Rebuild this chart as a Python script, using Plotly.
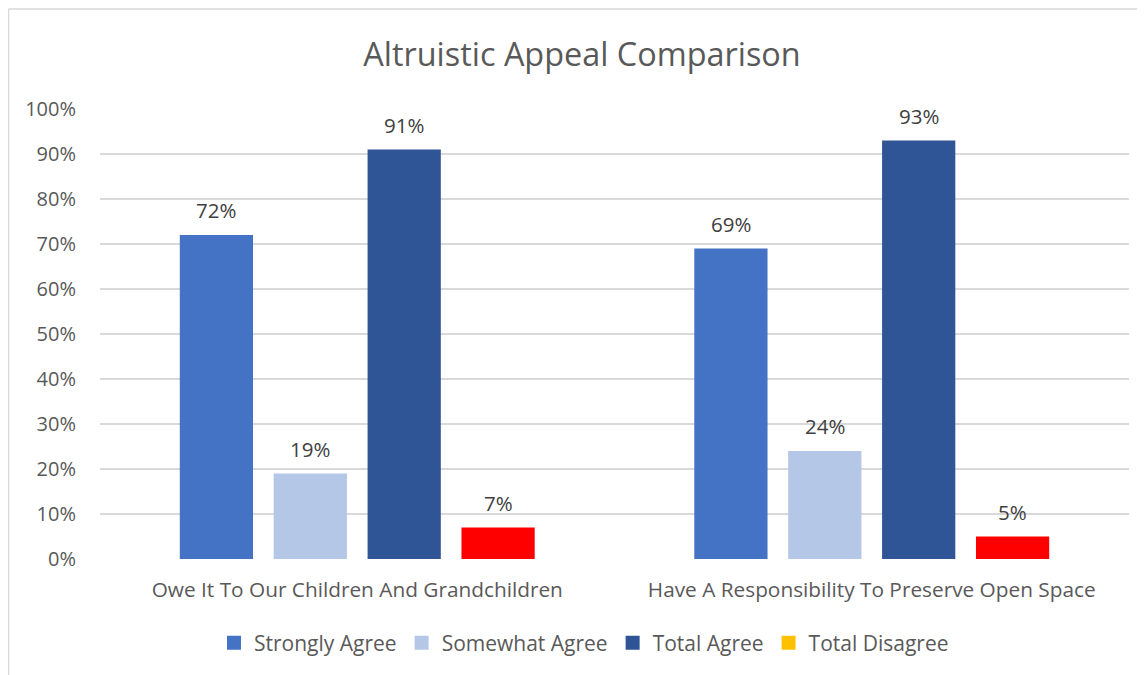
import plotly.graph_objects as go

categories = ["Owe It To Our Children And Grandchildren",
              "Have A Responsibility To Preserve Open Space"]
series_names = ["Strongly Agree", "Somewhat Agree", "Total Agree", "Total Disagree"]
strongly_agree = [0.72, 0.69]
somewhat_agree = [0.19, 0.24]
total_agree = [0.91, 0.93]
total_disagree = [0.07, 0.05]
series_values = [strongly_agree, somewhat_agree, total_agree, total_disagree]
bar_colors = ["#4472C4", "#B4C7E7", "#2F5597", "#FF0000"]
legend_colors = ["#4472C4", "#B4C7E7", "#2F5597", "#FFC000"]
y_ticks = [i / 10 for i in range(11)]

# page has an 8px body margin, so the figure is drawn 8px right/down
W, H = 1137, 667
ML, MR, MT, MB = 92, 16, 101, 116
BARGAP = 0.27
FONT = "Open Sans"
TXT = "#595959"

fig = go.Figure()
for name, vals, col in zip(series_names, series_values, bar_colors):
    fig.add_trace(go.Bar(x=categories, y=vals, name=name, marker_color=col,
                         marker_line_width=0, showlegend=False))
for name, col in zip(series_names, legend_colors):
    fig.add_trace(go.Scatter(x=[None], y=[None], mode="markers", name=name,
                             marker=dict(symbol="square", size=14, color=col)))

# data labels above bars, offset to each bar's slot in the group
plot_w = W - ML - MR
plot_h = H - MT - MB
slot = plot_w / len(categories) * (1 - BARGAP) / len(series_names)
annotations = []
for i, vals in enumerate(series_values):
    for c, v in zip(categories, vals):
        annotations.append(dict(x=c, y=v, xref="x", yref="y", text=f"{round(v*100)}%",
                                showarrow=False, xshift=(i - 1.5) * slot, yshift=25,
                                yanchor="middle", font=dict(family=FONT, size=20.5, color="#404040")))

border_y = 1 + (MT - 1) / plot_h
border_x = (0.5 - ML) / plot_w
fig.update_layout(
    width=W, height=H,
    margin=dict(l=ML, r=MR, t=MT, b=MB),
    paper_bgcolor="white", plot_bgcolor="white",
    barmode="group", bargap=BARGAP, bargroupgap=0.22,
    font=dict(family=FONT, size=20, color=TXT),
    title=dict(text="Altruistic Appeal Comparison", x=574 / W, xref="container",
               y=1 - 47 / H, yanchor="middle", xanchor="center",
               font=dict(family=FONT, size=32.4, color=TXT)),
    legend=dict(orientation="h", x=(576 - ML) / plot_w, xanchor="center",
                y=-(635 - (MT + plot_h)) / plot_h, yanchor="middle",
                font=dict(family=FONT, size=21, color=TXT), itemclick=False),
    annotations=annotations,
    shapes=[
        dict(type="line", xref="paper", yref="paper", x0=border_x, x1=border_x,
             y0=-0.4, y1=border_y, line=dict(color="#D9D9D9", width=1.5)),
        dict(type="line", xref="paper", yref="paper", x0=border_x, x1=1.1,
             y0=border_y, y1=border_y, line=dict(color="#D9D9D9", width=1.5)),
    ],
)
fig.update_yaxes(range=[0, 1], tickvals=y_ticks, tickformat=".0%", showgrid=True,
                 gridcolor="#D9D9D9", gridwidth=1.5, zeroline=False, showline=False,
                 ticks="", ticklabelstandoff=23, tickfont=dict(size=20, color=TXT))
fig.update_xaxes(showgrid=False, showline=False, ticks="", ticklabelstandoff=16,
                 tickfont=dict(size=20.8, color=TXT))

fig.write_html("out.html")
